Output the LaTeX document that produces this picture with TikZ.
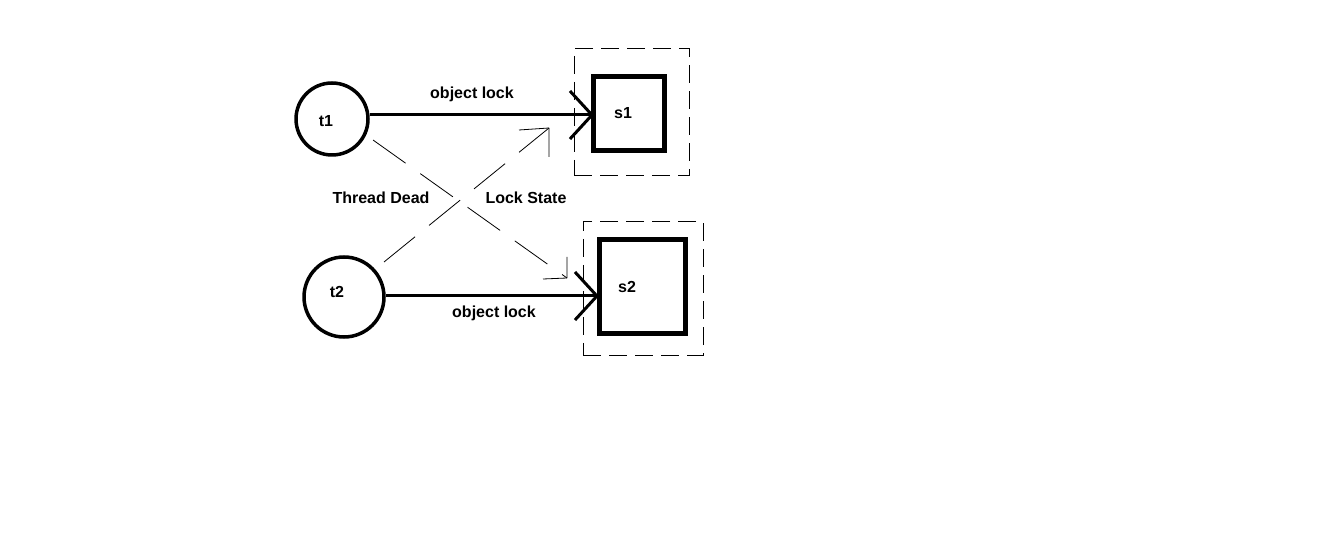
\documentclass[tikz,border=0pt]{standalone}
\usepackage{fontspec}
\setmainfont{Liberation Sans}
\usetikzlibrary{arrows.meta}
\begin{document}
\begin{tikzpicture}[x=1pt,y=-1pt,
  lbl/.style={font=\fontsize{16}{18}\selectfont\bfseries, inner sep=0pt},
  thread/.style={circle, draw, line width=3.5pt, inner sep=0pt},
  res/.style={draw, line width=5pt, inner sep=0pt},
  frame/.style={draw, line width=1pt, dash pattern=on 18pt off 8pt, inner sep=0pt},
  solidarr/.style={line width=3pt, -{Straight Barb[length=22pt,width=48pt,line width=3pt]}},
  dashline/.style={line width=0.8pt, dash pattern=on 40pt off 18pt},
  barb/.style={line width=0.8pt}
]
\useasboundingbox (0,0) rectangle (1335,534);
\node[thread, minimum size=72pt] (t1) at (332,119) {};
\node[lbl] at (326,121) {t1};
\node[thread, minimum size=80pt] (t2) at (344,297) {};
\node[lbl] at (337,292) {t2};
\node[res, minimum width=71pt, minimum height=74pt] (s1) at (628.5,114) {};
\node[lbl] at (623,113) {s1};
\node[res, minimum width=86pt, minimum height=94pt] (s2) at (642,287) {};
\node[lbl] at (627,287) {s2};
\node[frame, minimum width=115pt, minimum height=127pt] (f1) at (631.5,112.5) {};
\node[frame, minimum width=120pt, minimum height=133pt] (f2) at (643,288.5) {};
\coordinate (a1) at (594,115);
\coordinate (a2) at (599,296);
\coordinate (d1s) at (384,262);
\coordinate (d1e) at (549,128);
\coordinate (d2s) at (373,140);
\coordinate (d2e) at (567,278);
\draw[solidarr] (t1.east |- a1) -- (a1);
\draw[solidarr] (t2.east |- a2) -- (a2);
\draw[dashline] (d1s) -- (d1e);
\draw[barb] (d1e) -- ++(-30,2) (d1e) -- ++(0,29);
\draw[dashline] (d2s) -- (d2e);
\draw[barb] (d2e) -- ++(-24,1) (d2e) -- ++(0,-21);
\node[lbl] at (472,94) {object lock};
\node[lbl] at (494,313) {object lock};
\node[lbl] at (381,198) {Thread Dead};
\node[lbl] at (526,198) {Lock State};
\end{tikzpicture}
\end{document}
